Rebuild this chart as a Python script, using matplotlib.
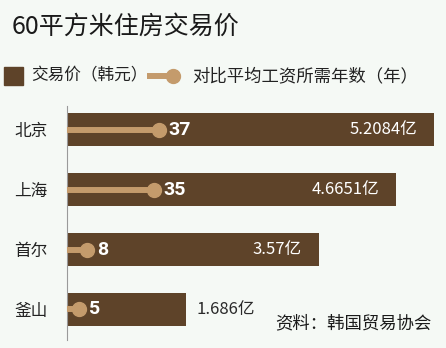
import matplotlib.pyplot as plt
from matplotlib.patches import Rectangle
from matplotlib.lines import Line2D

# data
cities = ['北京', '上海', '首尔', '釜山']
price_yi = [5.2084, 4.6651, 3.57, 1.686]          # 交易价（亿韩元）
price_labels = ['5.2084亿', '4.6651亿', '3.57亿', '1.686亿']
years = [37, 35, 8, 5]                             # 对比平均工资所需年数

BAR = '#5e4329'
TAN = '#c49b6c'
BG = '#f5f9f5'
CJK = ['Noto Sans CJK SC', 'DejaVu Sans']

W, H = 446, 348
fig = plt.figure(figsize=(W / 100, H / 100), dpi=100, facecolor=BG)

def fx(px):
    return px / W

def fy(py):
    return 1 - py / H

# main axes (pixel placement)
left, right, top, bottom = 67, 440, 106, 340
ax = fig.add_axes([fx(left), fy(bottom), (right - left) / W, (bottom - top) / H])
ax.set_facecolor('none')
ax.set_xlim(0, (right - left) / 70.5)
ax.set_ylim(3.51, -0.4)

ypos = list(range(len(cities)))
ax.barh(ypos, price_yi, height=0.55, color=BAR, zorder=2)

for y, v, lab in zip(ypos, price_yi, price_labels):
    if v > 3:
        ax.annotate(lab, (v, y), xytext=(-12, 0), textcoords='offset points',
                    ha='right', va='center', color='white', fontsize=12, family=CJK)
    else:
        ax.annotate(lab, (v, y), xytext=(8, 0), textcoords='offset points',
                    ha='left', va='center', color='#2a2a2a', fontsize=12, family=CJK)

ax.set_yticks(ypos)
ax.set_yticklabels(cities, family=CJK, fontsize=12, color='#222222')
ax.tick_params(axis='y', length=0, pad=14)
ax.set_xticks([])
for s in ['top', 'right', 'bottom']:
    ax.spines[s].set_visible(False)
ax.spines['left'].set_color('#9a9a9a')
ax.spines['left'].set_linewidth(0.8)

# lollipop on a twin axis in years
ax2 = ax.twiny()
ax2.set_xlim(0, (right - left) / 2.49)
ax2.set_ylim(3.51, -0.4)
ax2.axis('off')
for y, n in zip(ypos, years):
    ax2.plot([0, n], [y, y], color=TAN, lw=4.3, solid_capstyle='butt', zorder=3)
    ax2.plot([n], [y], 'o', color=TAN, ms=10, zorder=4)
    ax2.annotate(str(n), (n, y), xytext=(7, 0), textcoords='offset points',
                 ha='left', va='center', color='white', fontsize=14,
                 fontweight='bold', family=['Roboto', 'DejaVu Sans'])

# title
fig.text(fx(12), fy(27), '60平方米住房交易价', family=CJK, fontsize=18,
         color='#1a1a1a', ha='left', va='center')

# legend (manual)
fig.add_artist(Rectangle((fx(4), fy(85)), fx(19), 18 / H, transform=fig.transFigure,
                         color=BAR))
fig.text(fx(31), fy(76), '交易价（韩元）', family=CJK, fontsize=12,
         color='#222222', ha='left', va='center')
fig.add_artist(Line2D([fx(147), fx(172)], [fy(76), fy(76)], transform=fig.transFigure,
                      color=TAN, lw=4.3, solid_capstyle='butt'))
fig.add_artist(Line2D([fx(173)], [fy(76)], transform=fig.transFigure,
                      marker='o', color=TAN, ms=10))
fig.text(fx(192), fy(76), '对比平均工资所需年数（年）', family=CJK, fontsize=12.5,
         color='#222222', ha='left', va='center')

# source
fig.text(fx(275), fy(323), '资料：韩国贸易协会', family=CJK, fontsize=12.5,
         color='#1a1a1a', ha='left', va='center')

fig.savefig('out.png', dpi=100, facecolor=BG)
